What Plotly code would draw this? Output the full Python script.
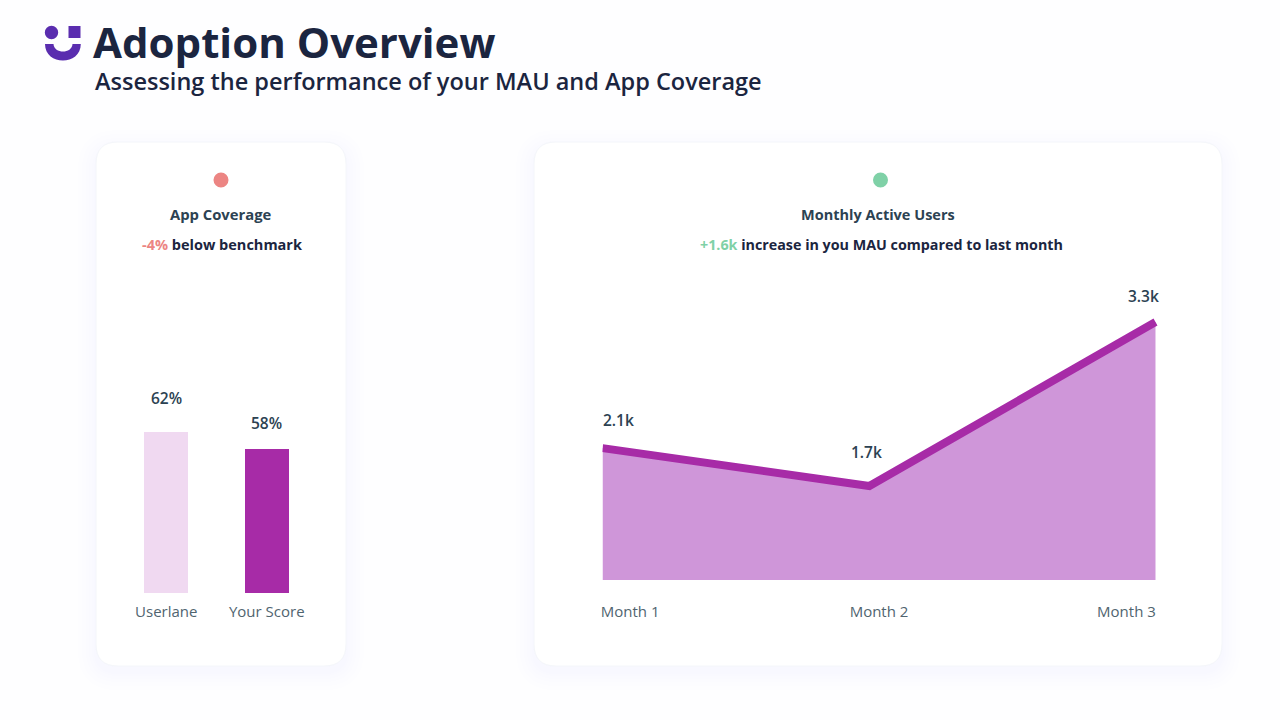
import plotly.graph_objects as go

# values
bar_names = ["Userlane", "Your Score"]
bar_values = [62, 58]
bar_labels = ["62%", "58%"]
bar_colors = ["#F0D9F1", "#A72BA7"]

month_x = [1, 1.965, 3]
mau_values = [2070, 1700, 3300]
mau_labels = ["2.1k", "1.7k", "3.3k"]
month_ticks = [1.1, 2.0, 2.895]
month_names = ["Month 1", "Month 2", "Month 3"]

W, H = 1280, 720
FONT = "Open Sans"
DARK = "#1B2540"
SLATE = "#2C4252"
TICK = "#50646F"
PURPLE = "#A72BA7"
LOGO = "#5A2DAF"


def fx(x):
    return x / W


def fy(y):
    return 1 - y / H


def round_rect(x0, y0, x1, y1, r):
    # rounded box in pixels, turned into paper coords
    pts = [
        ("M", x0 + r, y0), ("L", x1 - r, y0), ("Q", x1, y0, x1, y0 + r),
        ("L", x1, y1 - r), ("Q", x1, y1, x1 - r, y1), ("L", x0 + r, y1),
        ("Q", x0, y1, x0, y1 - r), ("L", x0, y0 + r), ("Q", x0, y0, x0 + r, y0),
    ]
    out = ""
    for p in pts:
        nums = p[1:]
        coords = [f"{fx(nums[i])},{fy(nums[i + 1])}" for i in range(0, len(nums), 2)]
        out += p[0] + " ".join(coords) + " "
    return out + "Z"


def card(x0, y0, x1, y1):
    shapes = []
    # soft shadow from stacked see-through boxes
    for grow in [18, 14, 10, 7, 4, 2]:
        shapes.append(dict(type="path", path=round_rect(x0 - grow, y0 - grow + 6, x1 + grow, y1 + grow + 6, 22 + grow),
                           xref="paper", yref="paper", fillcolor="rgba(120,150,210,0.008)",
                           line=dict(width=0), layer="below"))
    shapes.append(dict(type="path", path=round_rect(x0, y0, x1, y1, 22), xref="paper", yref="paper",
                       fillcolor="#FFFFFF", line=dict(color="#F4F6FA", width=1), layer="below"))
    return shapes


def dot(cx, cy, r, color):
    return dict(type="circle", xref="paper", yref="paper", x0=fx(cx - r), x1=fx(cx + r),
                y0=fy(cy + r), y1=fy(cy - r), fillcolor=color, line=dict(width=0), layer="below")


def note(x, y, text, size, color=SLATE):
    return dict(x=fx(x), y=fy(y), xref="paper", yref="paper", text=text, showarrow=False,
                xanchor="center", yanchor="middle", font=dict(family=FONT, size=size, color=color, weight=700))


fig = go.Figure()

fig.add_trace(go.Bar(x=bar_names, y=bar_values, marker=dict(color=bar_colors, line=dict(width=0)),
                     width=0.436, xaxis="x", yaxis="y", hoverinfo="skip", showlegend=False))

fig.add_trace(go.Scatter(x=month_x, y=mau_values, mode="lines", fill="tozeroy", fillcolor="#CF96D9",
                         line=dict(color=PURPLE, width=8), xaxis="x2", yaxis="y2",
                         hoverinfo="skip", showlegend=False))

shapes = card(96, 142, 346, 666) + card(534, 142, 1222, 666)
shapes.append(dot(221, 180, 7.5, "#EC8583"))
shapes.append(dot(880.5, 180, 7.5, "#7FD1A7"))

# logo
shapes.append(dot(51.5, 32.5, 6.7, LOGO))
shapes.append(dict(type="rect", xref="paper", yref="paper", x0=fx(68.5), x1=fx(80.5), y0=fy(38), y1=fy(26),
                   fillcolor=LOGO, line=dict(width=0), layer="below"))
smile = (f"M{fx(45)},{fy(44)} L{fx(53.5)},{fy(44)} C{fx(54)},{fy(54)} {fx(72)},{fy(54)} {fx(72.5)},{fy(44)} "
         f"L{fx(80.8)},{fy(44)} C{fx(80.8)},{fy(66)} {fx(45)},{fy(66)} {fx(45)},{fy(44)} Z")
shapes.append(dict(type="path", path=smile, xref="paper", yref="paper", fillcolor=LOGO,
                   line=dict(width=0), layer="below"))

annotations = [
    dict(x=fx(90.5), y=fy(41), xref="paper", yref="paper", text="Adoption Overview", showarrow=False,
         xanchor="left", yanchor="middle", font=dict(family=FONT, size=42, color=DARK, weight=700)),
    dict(x=fx(93), y=fy(81), xref="paper", yref="paper",
         text="Assessing the performance of your MAU and App Coverage", showarrow=False,
         xanchor="left", yanchor="middle", font=dict(family=FONT, size=23.5, color=DARK, weight=600)),
    note(221, 214, "App Coverage", 14.8),
    note(221.5, 244.5, '<span style="color:#EC8583">-4%</span> below benchmark', 14.5, DARK),
    note(878, 214, "Monthly Active Users", 14.5),
    note(881.5, 244.5, '<span style="color:#7FD1A7">+1.6k</span> increase in you MAU compared to last month', 14.3, DARK),
]

bar_shift = [34, 25.5]
for name, val, lab, s in zip(bar_names, bar_values, bar_labels, bar_shift):
    annotations.append(dict(x=name, y=val, xref="x", yref="y", text=lab, showarrow=False,
                            yshift=s, font=dict(family=FONT, size=15.5, color=SLATE, weight=600)))

mau_dx = [15.5, -3, -12]
mau_dy = [28, 34, 26]
for x, val, lab, dx, dy in zip(month_x, mau_values, mau_labels, mau_dx, mau_dy):
    annotations.append(dict(x=x, y=val, xref="x2", yref="y2", text=lab, showarrow=False,
                            xshift=dx, yshift=dy, font=dict(family=FONT, size=15.5, color=SLATE, weight=600)))

fig.update_layout(
    width=W, height=H, margin=dict(l=0, r=0, t=0, b=0, autoexpand=False),
    paper_bgcolor="#FEFEFF", plot_bgcolor="rgba(0,0,0,0)",
    bargap=0, shapes=shapes, annotations=annotations,
    xaxis=dict(domain=[fx(116), fx(317)], anchor="y", type="category", range=[-0.5, 1.5], showgrid=False,
               showline=False, zeroline=False, ticks="outside", ticklen=5, tickcolor="rgba(0,0,0,0)",
               tickfont=dict(family=FONT, size=15, color=TICK)),
    yaxis=dict(domain=[fy(593), fy(380)], anchor="x", range=[24.1, 74.2], visible=False),
    xaxis2=dict(domain=[fx(602.5), fx(1165)], anchor="y2", range=[1, 3 + 2 * 9.5 / 552.5], showgrid=False,
                showline=False, zeroline=False, tickmode="array", tickvals=month_ticks, ticktext=month_names,
                ticks="outside", ticklen=18, tickcolor="rgba(0,0,0,0)",
                tickfont=dict(family=FONT, size=15, color=TICK)),
    yaxis2=dict(domain=[fy(580), fy(280)], anchor="x2", range=[783, 3710], visible=False),
)

fig.write_html("out.html", config={"displayModeBar": False}, post_script="document.body.style.margin='0'")
